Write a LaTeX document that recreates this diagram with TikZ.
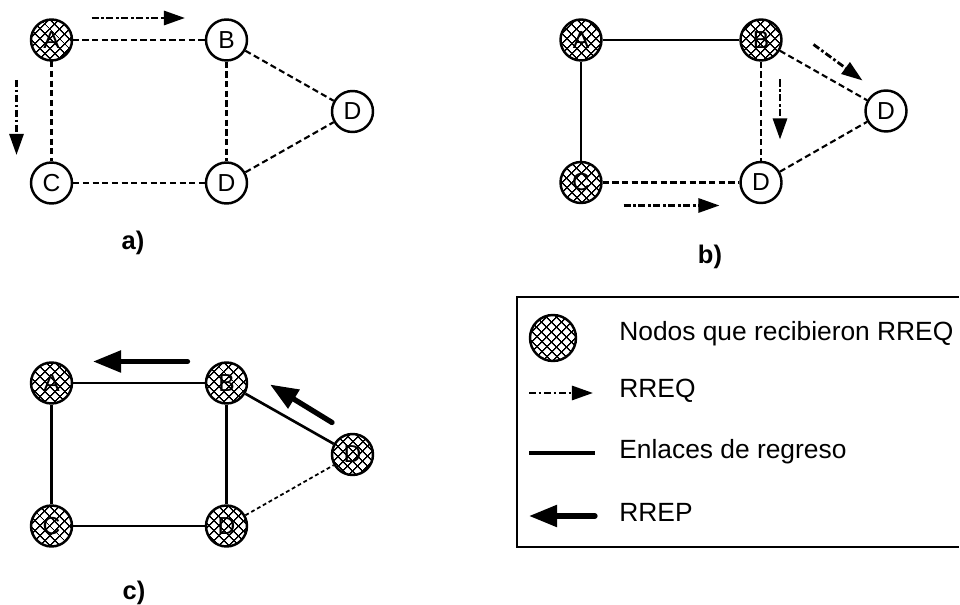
\documentclass[tikz,border=0pt]{standalone}
\usepackage{fontspec}
\setmainfont{Liberation Sans}
\usepackage{tikz}
\usetikzlibrary{calc,arrows.meta,patterns.meta}
\def\drawreq{\draw[rreq]}
\def\drawrep{\draw[rrep]}
\def\drawlink{\draw[enlace]}
\def\drawhop{\draw[salto]}
\def\plainnode{\node[nodo]}
\def\hatchnode{\node[nodo,visto]}

\begin{document}
\begin{tikzpicture}[
  nodo/.style={circle,draw=black,line width=1.4pt,fill=white,minimum size=8.2mm,
    inner sep=0pt,font=\fontsize{14}{16}\selectfont},
  visto/.style={preaction={fill=white},
    preaction={pattern={Lines[angle=45,distance=4pt,line width=.8pt]}},
    pattern={Lines[angle=-45,distance=4pt,line width=.8pt]}},
  salto/.style={line width=1.2pt,dash pattern=on 3.5pt off 2pt},
  fino/.style={line width=1pt,dash pattern=on 2.2pt off 1.6pt},
  enlace/.style={line width=1.5pt},
  rreq/.style={line width=1.6pt,dash pattern=on 4pt off 1.5pt on 1.5pt off 1.5pt,
    -{Triangle[length=12pt,width=8pt]}},
  rrep/.style={line width=3pt,line cap=round,-{Triangle[length=16pt,width=12pt]}},
  etiqueta/.style={font=\fontsize{14.5}{16}\selectfont\bfseries},
  leyenda/.style={anchor=west,font=\fontsize{15}{18}\selectfont,
    text height=1.5ex,text depth=.4ex,inner sep=0pt}]
\useasboundingbox (0,0) rectangle (19.2,12.1);

% -------- panel a ---------
% everything placed from node A of the panel (ao)
\coordinate (ao) at (1.03,11.3);
\hatchnode (aA) at (ao) {A};
\plainnode (aB) at ($ (ao) + (3.5,0) $) {B};
\plainnode (aDr) at ($ (ao) + (6.02,-1.43) $) {D};
\plainnode (aC) at ($ (ao) + (0,-2.86) $) {C};
\plainnode (aDb) at ($ (ao) + (3.5,-2.86) $) {D};
\drawhop (aA) -- (aB);
\drawhop (aA) -- (aC);
\drawhop (aB) -- (aDb);
\drawhop (aB) -- (aDr);
\drawhop (aC) -- (aDb);
\drawhop (aDb) -- (aDr);
\coordinate (areq1) at ($ (ao) + (0.8,0.44) $);
\coordinate (areq1e) at ($ (ao) + (2.67,0.44) $);
\coordinate (areq2) at ($ (ao) + (-0.7,-0.8) $);
\coordinate (areq2e) at ($ (ao) + (-0.7,-2.3) $);
\drawreq (areq1) -- (areq1e);
\drawreq (areq2) -- (areq2e);
\node[etiqueta] (la) at ($ (ao) + (1.63,-4.05) $) {a)};
% ------ end panel a ------

% -------- panel b ---------
\coordinate (bo) at (11.62,11.3);
\hatchnode (bA) at (bo) {A};
\hatchnode (bB) at ($ (bo) + (3.6,0) $) {B};
\plainnode (bDr) at ($ (bo) + (6.1,-1.42) $) {D};
\hatchnode (bC) at ($ (bo) + (0,-2.85) $) {C};
\plainnode (bDb) at ($ (bo) + (3.6,-2.85) $) {D};
\drawlink (bA) -- (bB);
\drawlink (bA) -- (bC);
\drawhop (bB) -- (bDb);
\drawhop (bB) -- (bDr);
\drawhop (bC) -- (bDb);
\drawhop (bDb) -- (bDr);
\coordinate (breq1) at ($ (bo) + (4.65,-0.09) $);
\coordinate (breq1e) at ($ (bo) + (5.63,-0.81) $);
\coordinate (breq2) at ($ (bo) + (3.98,-0.79) $);
\coordinate (breq2e) at ($ (bo) + (3.98,-1.99) $);
\coordinate (breq3) at ($ (bo) + (0.85,-3.31) $);
\coordinate (breq3e) at ($ (bo) + (2.77,-3.31) $);
\drawreq (breq1) -- (breq1e);
\drawreq (breq2) -- (breq2e);
\drawreq (breq3) -- (breq3e);
\node[etiqueta] (lb) at ($ (bo) + (2.58,-4.33) $) {b)};
% ------ end panel b ------

% -------- panel c ---------
\coordinate (co) at (1.03,4.44);
\hatchnode (cA) at (co) {A};
\hatchnode (cB) at ($ (co) + (3.5,0) $) {B};
\hatchnode (cDr) at ($ (co) + (6.02,-1.43) $) {D};
\hatchnode (cC) at ($ (co) + (0,-2.86) $) {C};
\hatchnode (cDb) at ($ (co) + (3.5,-2.86) $) {D};
\drawlink (cA) -- (cB);
\drawlink (cA) -- (cC);
\drawlink (cB) -- (cDb);
\drawlink (cB) -- (cDr);
\drawlink (cC) -- (cDb);
\draw[fino] (cDb) -- (cDr);
\coordinate (crep1) at ($ (co) + (2.72,0.43) $);
\coordinate (crep1e) at ($ (co) + (0.83,0.43) $);
\coordinate (crep2) at ($ (co) + (5.61,-0.79) $);
\coordinate (crep2e) at ($ (co) + (4.37,-0.03) $);
\drawrep (crep1) -- (crep1e);
\drawrep (crep2) -- (crep2e);
\node[etiqueta] (lc) at ($ (co) + (1.65,-4.19) $) {c)};
% ------ end panel c ------

% Now the legend, open on the right side
\draw[line width=1.4pt] (19.17,6.16) -- (10.34,6.16) -- (10.34,1.16) -- (19.17,1.16);
\hatchnode[minimum size=9.2mm] (lsym) at (11.06,5.34) {};
\coordinate (lreq) at (10.58,4.24);
\coordinate (lreqe) at (11.86,4.24);
\coordinate (llink) at (10.58,3.04);
\coordinate (llinke) at (11.9,3.04);
\coordinate (lrep) at (11.9,1.78);
\coordinate (lrepe) at (10.58,1.78);
\drawreq (lreq) -- (lreqe);
\draw[enlace,line width=1.8pt] (llink) -- (llinke);
\drawrep (lrep) -- (lrepe);
\node[leyenda] (t1) at (12.38,5.4) {Nodos que recibieron RREQ};
\node[leyenda] (t2) at (12.38,4.26) {RREQ};
\node[leyenda] (t3) at (12.38,3.04) {Enlaces de regreso};
\node[leyenda] (t4) at (12.38,1.78) {RREP};
\end{tikzpicture}
\end{document}
